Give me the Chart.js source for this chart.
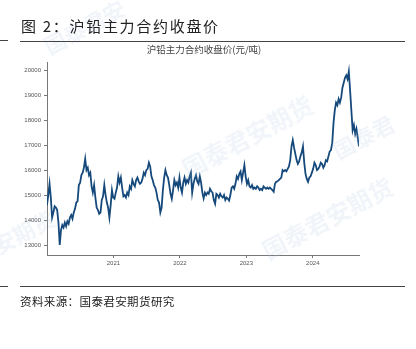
<!DOCTYPE html>
<html>
<head>
<meta charset="utf-8">
<script src="https://cdn.jsdelivr.net/npm/chart.js@4.4.1/dist/chart.umd.min.js"></script>
<style>
  html, body { margin: 0; padding: 0; background: #fff; }
  #wrap { position: relative; width: 416px; height: 349px; overflow: hidden; background: #fff; }
  canvas { position: absolute; left: 0; top: 0; }
  .t { position: absolute; white-space: nowrap; font-family: "Noto Sans CJK SC", sans-serif; }
  #title { left: 21px; top: 16px; font-size: 15px; letter-spacing: 1.7px; color: #222; line-height: 20px; }
  #sub { left: 0; width: 408px; text-align: center; top: 43px; font-size: 9.5px; color: #444; line-height: 12px; }
  #src { left: 20px; top: 293px; font-size: 11.5px; letter-spacing: 0.4px; color: #222; line-height: 16px; }
  .hl { position: absolute; height: 1.4px; background: #444; }
  .wm { position: absolute; white-space: nowrap; font-family: "Noto Sans CJK SC", sans-serif; font-weight: 700; color: rgba(175,198,228,0.18); transform: rotate(-28deg); transform-origin: center; pointer-events: none; }
</style>
</head>
<body>
<div id="wrap">
  <canvas id="c" width="416" height="349"></canvas>
  <div class="wm" style="left:175px;top:118px;font-size:24px;">国泰君安期货</div>
  <div class="wm" style="left:255px;top:200px;font-size:24px;">国泰君安期货</div>
  <div class="wm" style="left:40px;top:10px;font-size:22px;">国泰君安</div>
  <div class="wm" style="left:330px;top:120px;font-size:22px;">国泰君</div>
  <div class="wm" style="left:-10px;top:215px;font-size:22px;">安期货</div>
  <div class="t" id="title">图 2：沪铅主力合约收盘价</div>
  <div class="hl" style="left:0;width:8px;top:40px;"></div>
  <div class="hl" style="left:20px;width:385px;top:40.5px;"></div>
  <div class="t" id="sub">沪铅主力合约收盘价(元/吨)</div>
  <div class="hl" style="left:0;width:8px;top:285.5px;"></div>
  <div class="hl" style="left:20px;width:385px;top:285.5px;"></div>
  <div class="t" id="src">资料来源：国泰君安期货研究</div>
</div>
<script>
// Weekly closing prices of the SHFE lead main contract (元/吨)
const close2020 = [14600,15000,15450,14900,14100,14300,14550,14500,14400,13900,13000,13600,13800,13700,13900,13750,13950,13850,14100,14200,14050,14300,14450,14700,14750,15400,15500,15800,15900,16100,16450,16000,16100,15800,15900,15350,15100,15400,14900,14500,14400,14250,14300,14800,14950,15400,15000,14700,14500,14100,14600,15200,14900];
const close2021 = [14850,15100,15300,15750,15500,15700,15300,14950,15000,14900,15100,15000,15350,15250,15600,15450,15350,15600,15700,15550,15450,15500,15650,15900,15800,16000,16050,16300,16150,15750,15600,15400,15300,15100,14800,14700,14300,14500,15200,15700,16000,15800,15700,15400,15050,14850,15200,15600,15400,15500,15300,15700];
const close2022 = [15300,15100,15500,15700,15450,15600,15500,15750,15900,15100,15450,15650,15800,15550,15450,15750,15500,15100,14870,15100,15000,15100,15050,15250,15150,15100,14800,14650,15050,15000,14900,15050,14950,14900,15000,14800,14900,14850,14780,15000,15300,15350,15250,15450,15750,15650,15850,15950,15600,15900,16200,15750];
const close2023 = [15450,15600,15350,15300,15400,15250,15300,15250,15350,15300,15200,15250,15200,15350,15300,15250,15300,15250,15300,15250,15200,15130,15450,15530,15550,15600,15650,15700,16000,15950,16000,15950,16050,16150,16400,16950,17200,16900,16650,16400,16250,16350,16550,16700,16950,16300,15850,15650,15530,15700,15750,15900];
const close2024 = [16050,16300,16200,16000,16050,16150,16300,16250,16100,16200,16400,16350,16550,16750,16800,17100,17900,18400,18700,18600,18850,18700,18900,19300,19500,19700,19800,19650,19950,19200,18400,17600,17800,17450,17650,17300,16950];
const startYear = 2020;
const xTickYears = [2021, 2022, 2023, 2024];
const yTickValues = [13000, 14000, 15000, 16000, 17000, 18000, 19000, 20000];
const yMin = 12600, yMax = 20330;

const closes = [].concat(close2020, close2021, close2022, close2023, close2024);
const weekInYears = 7 / 365.25;
const points = closes.map((v, i) => ({ x: startYear + i * weekInYears, y: v }));
const xMax = startYear + (closes.length - 1) * weekInYears;

const tickFont = { family: "'Liberation Sans', Arial, sans-serif", size: 6 };

new Chart(document.getElementById('c'), {
  type: 'line',
  data: {
    datasets: [{
      data: points,
      borderColor: '#15497b',
      borderWidth: 1.8,
      pointRadius: 0,
      tension: 0,
      fill: false
    }]
  },
  options: {
    responsive: false,
    animation: false,
    devicePixelRatio: 1,
    layout: { padding: { left: 0, right: 57, top: 62, bottom: 74 } },
    plugins: { legend: { display: false }, tooltip: { enabled: false }, title: { display: false } },
    scales: {
      x: {
        type: 'linear',
        min: startYear,
        max: xMax,
        afterFit(s) { s.height = 20; },
        afterBuildTicks(s) { s.ticks = xTickYears.map(v => ({ value: v })); },
        grid: { display: true, drawOnChartArea: false, drawTicks: true, tickLength: 3, color: '#777' },
        border: { display: true, color: '#777', width: 1 },
        ticks: {
          autoSkip: false,
          maxRotation: 0,
          padding: 2,
          color: '#555',
          font: tickFont,
          callback: (v) => String(v)
        }
      },
      y: {
        type: 'linear',
        min: yMin,
        max: yMax,
        afterFit(s) { s.width = 47; },
        afterBuildTicks(s) { s.ticks = yTickValues.map(v => ({ value: v })); },
        grid: { display: true, drawOnChartArea: false, drawTicks: true, tickLength: 3, color: '#777' },
        border: { display: true, color: '#777', width: 1 },
        ticks: {
          autoSkip: false,
          padding: 3,
          color: '#555',
          font: tickFont,
          callback: (v) => String(v)
        }
      }
    }
  }
});
</script>
</body>
</html>
